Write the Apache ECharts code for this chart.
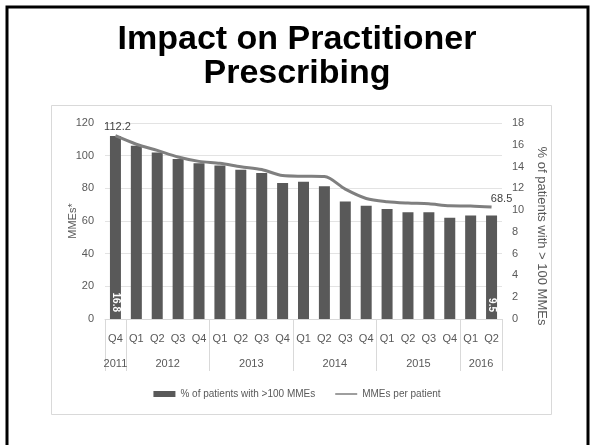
<!DOCTYPE html>
<html>
<head>
<meta charset="utf-8">
<script src="https://cdn.jsdelivr.net/npm/echarts@6/dist/echarts.min.js"></script>
<style>
html,body{margin:0;padding:0;background:#fff;}
#c{width:594px;height:445px;}
</style>
</head>
<body>
<div id="c"></div>
<script>
const quarters = ['Q4','Q1','Q2','Q3','Q4','Q1','Q2','Q3','Q4','Q1','Q2','Q3','Q4','Q1','Q2','Q3','Q4','Q1','Q2'];
const years = ['2011','2012','2013','2014','2015','2016'];
const yearCenters = [0, 2.5, 6.5, 10.5, 14.5, 17.5];
const yearBounds = [-0.5, 0.5, 4.5, 8.5, 12.5, 16.5, 18.5];
const pctPatients = [16.8, 15.9, 15.3, 14.7, 14.3, 14.1, 13.7, 13.4, 12.5, 12.6, 12.2, 10.8, 10.4, 10.1, 9.8, 9.8, 9.3, 9.5, 9.5];
const mmesPerPatient = [112.2, 107.0, 103.2, 99.2, 96.5, 95.3, 93.2, 91.5, 87.8, 87.4, 87.2, 79.5, 73.8, 71.8, 71.0, 70.6, 69.3, 69.2, 68.5];
const leftTicks = {min: 0, max: 120, interval: 20};
const rightTicks = {min: 0, max: 18, interval: 2};

const FONT = "'Liberation Sans Narrow','Liberation Sans',Arial,sans-serif";
const chart = echarts.init(document.getElementById('c'), null, {renderer: 'canvas'});
const last = pctPatients.length - 1;

chart.setOption({
  animation: false,
  backgroundColor: '#fff',
  title: {
    text: 'Impact on Practitioner\nPrescribing',
    left: 'center', top: 18,
    textStyle: {fontFamily: "'Liberation Sans',Arial,sans-serif", fontWeight: 'bold', fontSize: 34, lineHeight: 34, color: '#000'}
  },
  graphic: [
    {type: 'rect', shape: {x: 7, y: 7, width: 581, height: 445}, style: {fill: 'none', stroke: '#000', lineWidth: 3}, silent: true, z: -1},
    {type: 'rect', shape: {x: 51.5, y: 105.5, width: 500, height: 309}, style: {fill: 'none', stroke: '#d9d9d9', lineWidth: 1}, silent: true, z: -1}
  ],
  legend: {
    left: 'center', top: 384,
    itemWidth: 22, itemHeight: 6, itemGap: 20,
    textStyle: {fontFamily: FONT, fontSize: 10, color: '#595959'},
    data: [
      {name: '% of patients with >100 MMEs', icon: 'rect'},
      {name: 'MMEs per patient', icon: 'path://M0,2.2h22v1.6h-22zM0,0h0.01v0.01h-0.01zM0,5.99h0.01v0.01h-0.01z'}
    ]
  },
  grid: {left: 105, right: 92, top: 123, bottom: 126},
  xAxis: [
    {
      type: 'category', data: quarters, position: 'bottom',
      axisLine: {show: true, lineStyle: {color: '#d9d9d9'}},
      axisTick: {show: false},
      axisLabel: {margin: 14, fontFamily: FONT, fontSize: 11, color: '#595959', interval: 0}
    },
    {
      type: 'value', position: 'bottom', min: -0.5, max: 18.5,
      axisLine: {show: false},
      splitLine: {show: false},
      axisTick: {show: true, inside: false, length: 52, customValues: yearBounds, lineStyle: {color: '#d9d9d9'}},
      axisLabel: {
        show: true, margin: 39, fontFamily: FONT, fontSize: 11, color: '#595959',
        customValues: yearCenters,
        formatter: function (v) { const i = yearCenters.indexOf(v); return i >= 0 ? years[i] : ''; }
      }
    }
  ],
  yAxis: [
    {
      type: 'value', min: leftTicks.min, max: leftTicks.max, interval: leftTicks.interval,
      name: 'MMEs*', nameLocation: 'middle', nameGap: 27, nameRotate: 90, nameMoveOverlap: false,
      nameTextStyle: {fontFamily: FONT, fontSize: 11, color: '#595959'},
      axisLine: {show: false}, axisTick: {show: false},
      axisLabel: {margin: 11, fontFamily: FONT, fontSize: 11, color: '#595959'},
      splitLine: {show: true, lineStyle: {color: '#e3e3e3', width: 1}}
    },
    {
      type: 'value', min: rightTicks.min, max: rightTicks.max, interval: rightTicks.interval,
      position: 'right',
      name: '% of patients with > 100 MMEs', nameLocation: 'middle', nameGap: 27, nameRotate: -90,
      nameTextStyle: {fontFamily: FONT, fontSize: 13, color: '#595959', padding: [0, 0, 0, 30]},
      axisLine: {show: false}, axisTick: {show: false},
      axisLabel: {margin: 10, fontFamily: FONT, fontSize: 11, color: '#595959'},
      splitLine: {show: false}
    }
  ],
  series: [
    {
      name: '% of patients with >100 MMEs', type: 'bar',
      xAxisIndex: 0, yAxisIndex: 1,
      barWidth: 11,
      itemStyle: {color: '#595959'},
      data: pctPatients.map(function (v, i) {
        if (i === 0 || i === last) {
          return {value: v, label: {show: true, position: 'insideBottom', distance: 7, rotate: -90,
            align: 'right', verticalAlign: 'middle',
            fontFamily: FONT, fontSize: 10, fontWeight: 'bold', color: '#fff'}};
        }
        return v;
      }),
      z: 2
    },
    {
      name: 'MMEs per patient', type: 'line',
      xAxisIndex: 0, yAxisIndex: 0,
      smooth: 0.3,
      symbol: 'circle', symbolSize: 0, showSymbol: true,
      lineStyle: {color: '#7f7f7f', width: 3},
      itemStyle: {color: '#7f7f7f'},
      data: mmesPerPatient.map(function (v, i) {
        if (i === 0) {
          return {value: v, label: {show: true, position: 'top', distance: 3, offset: [2, 0],
            fontFamily: FONT, fontSize: 11, color: '#404040'}};
        }
        if (i === last) {
          return {value: v, label: {show: true, position: 'top', distance: 3, offset: [10, 0],
            fontFamily: FONT, fontSize: 11, color: '#404040'}};
        }
        return v;
      }),
      z: 3
    }
  ]
});
</script>
</body>
</html>
